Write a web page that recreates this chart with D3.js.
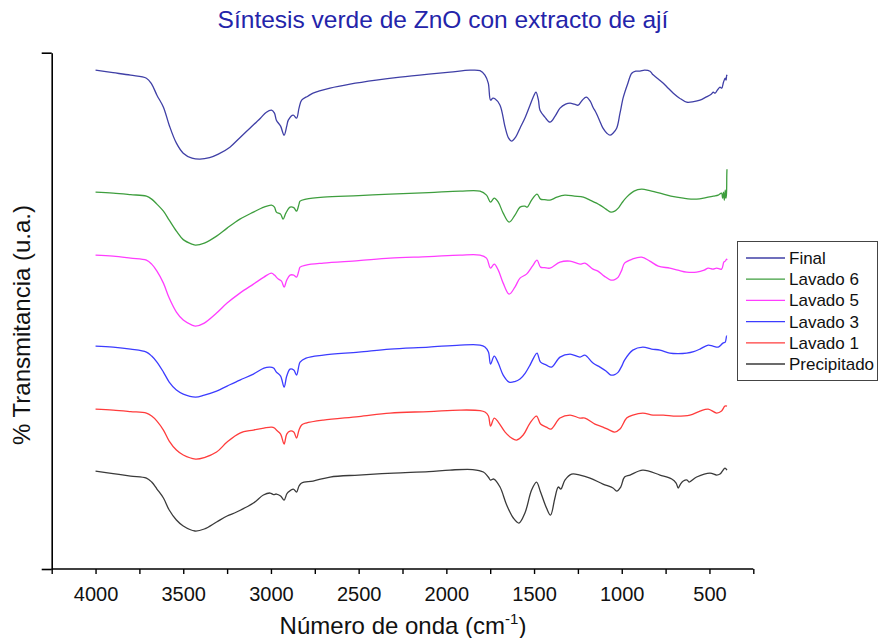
<!DOCTYPE html>
<html>
<head>
<meta charset="utf-8">
<script src="https://cdn.jsdelivr.net/npm/d3@7"></script>
<style>
  html, body { margin: 0; padding: 0; background: #fff; }
  svg { display: block; font-family: "Liberation Sans", Arial, sans-serif; }
</style>
</head>
<body>
<svg id="chart" width="881" height="638"></svg>
<script>
// FTIR spectra: [wavenumber (cm^-1), transmittance (a.u., stacked)]
const finalData = [
  [4000,99.8],[3900,99.3],[3800,98.8],[3710,98.2],[3680,97.0],[3650,94.8],[3613,92.4],[3580,88.8],
  [3539,85.2],[3500,83.2],[3450,82.2],[3405,82.0],[3350,82.3],[3300,83.0],[3234,84.4],[3180,86.2],
  [3120,88.2],[3060,90.2],[3026,91.4],[2997,91.8],[2980,91.2],[2969,89.8],[2945,88.6],[2925,86.8],
  [2910,88.6],[2901,89.8],[2873,90.8],[2854,90.2],[2840,92.2],[2825,93.8],[2790,94.6],[2760,95.2],
  [2663,96.2],[2549,97.0],[2400,97.8],[2264,98.4],[2100,99.0],[1979,99.4],[1865,99.8],[1808,99.7],
  [1780,98.8],[1761,97.2],[1748,93.8],[1735,94.2],[1723,94.1],[1694,92.8],[1665,88.4],[1645,86.2],
  [1628,85.6],[1605,86.4],[1580,88.2],[1550,90.4],[1523,92.8],[1500,94.8],[1489,95.4],[1475,93.8],
  [1466,91.8],[1438,90.4],[1409,89.4],[1380,90.6],[1352,92.2],[1320,93.0],[1295,93.2],[1270,93.0],
  [1248,92.8],[1225,93.8],[1202,94.4],[1180,93.6],[1164,92.4],[1145,91.2],[1125,89.6],[1107,88.2],
  [1085,87.2],[1067,86.8],[1050,87.2],[1029,88.2],[1010,91.2],[991,94.4],[965,97.2],[943,99.2],
  [920,99.6],[896,99.6],[870,99.8],[839,99.6],[825,99.0],[811,98.6],[790,98.0],[763,97.2],
  [735,96.2],[706,95.2],[670,94.2],[630,93.4],[590,93.5],[554,93.8],[520,94.4],[490,95.0],
  [478,95.4],[468,95.2],[455,95.8],[440,96.4],[430,96.2],[420,97.4],[410,98.2],[405,97.8],
  [402,98.8],[400,98.6]
];
const lavado6Data = [
  [4000,75.4],[3900,75.2],[3800,74.9],[3710,74.6],[3680,74.0],[3650,73.0],[3613,71.6],[3580,69.8],
  [3539,67.6],[3500,65.9],[3450,65.0],[3430,64.8],[3380,65.2],[3310,66.6],[3250,68.2],[3177,70.0],
  [3100,71.4],[3040,72.4],[2997,72.8],[2980,72.4],[2969,71.4],[2945,71.0],[2931,70.0],[2915,71.2],
  [2891,72.4],[2870,72.3],[2854,71.6],[2840,73.0],[2834,73.6],[2800,74.0],[2701,74.4],[2500,74.7],
  [2321,75.0],[2100,75.3],[1922,75.6],[1808,75.6],[1771,74.8],[1748,73.4],[1727,74.2],[1704,73.4],
  [1676,71.2],[1642,69.4],[1609,70.8],[1580,72.4],[1552,72.6],[1539,72.4],[1514,73.8],[1483,75.0],
  [1463,74.0],[1440,73.9],[1409,73.8],[1370,74.4],[1324,74.8],[1270,74.6],[1219,74.4],[1181,73.8],
  [1124,72.8],[1090,72.0],[1062,71.4],[1040,71.6],[1020,72.2],[1000,73.2],[972,74.4],[930,75.6],
  [887,76.0],[840,75.7],[782,75.2],[720,74.6],[649,74.2],[573,74.0],[520,74.3],[478,74.6],
  [450,74.8],[431,75.2],[425,74.2],[420,75.4],[415,73.8],[410,75.8],[406,74.2],[403,75.0],
  [401,79.0],[400,80.0]
];
const lavado5Data = [
  [4000,62.8],[3900,62.6],[3800,62.2],[3710,61.8],[3680,61.0],[3650,59.6],[3613,57.2],[3580,54.2],
  [3539,51.4],[3500,49.8],[3450,48.8],[3430,48.6],[3380,49.2],[3310,51.2],[3250,53.2],[3177,55.2],
  [3100,57.0],[3040,58.4],[2997,59.2],[2980,58.8],[2958,58.0],[2940,57.6],[2925,56.4],[2910,57.8],
  [2891,58.8],[2870,58.8],[2854,58.4],[2840,59.8],[2834,60.4],[2800,60.8],[2701,61.2],[2500,61.7],
  [2321,62.2],[2100,62.5],[1922,62.8],[1808,62.8],[1771,62.2],[1748,60.2],[1727,61.0],[1704,59.8],
  [1676,57.2],[1642,55.0],[1609,56.4],[1580,58.2],[1543,59.0],[1509,60.6],[1483,61.8],[1463,60.4],
  [1440,60.3],[1409,60.2],[1352,61.4],[1295,61.6],[1238,61.0],[1210,61.2],[1164,60.0],[1136,59.6],
  [1100,58.6],[1062,57.8],[1040,57.9],[1020,58.4],[1000,59.8],[984,61.2],[940,62.0],[887,62.4],
  [840,61.6],[792,60.6],[726,60.2],[680,59.8],[630,59.4],[573,59.4],[530,59.8],[507,60.2],
  [480,60.0],[459,60.2],[431,60.0],[418,61.4],[410,61.6],[402,62.0],[400,61.8]
];
const lavado3Data = [
  [4000,44.6],[3900,44.4],[3800,44.0],[3710,43.4],[3680,42.6],[3650,41.4],[3613,39.4],[3580,37.4],
  [3539,35.8],[3500,35.0],[3430,34.4],[3380,34.8],[3310,35.6],[3250,36.6],[3177,37.8],[3100,39.0],
  [3040,40.2],[3005,40.4],[2985,40.2],[2969,39.4],[2945,38.6],[2925,36.4],[2910,38.6],[2891,40.0],
  [2870,39.8],[2854,38.8],[2840,40.8],[2834,41.4],[2800,42.2],[2701,42.8],[2500,43.4],[2321,44.0],
  [2100,44.4],[1922,44.8],[1808,44.8],[1780,44.4],[1760,43.4],[1748,41.0],[1727,42.6],[1704,41.2],
  [1676,38.8],[1642,37.4],[1610,37.5],[1580,38.0],[1550,39.2],[1523,40.8],[1500,42.4],[1483,43.2],
  [1463,41.4],[1430,40.8],[1400,40.4],[1352,42.4],[1295,43.0],[1238,42.4],[1210,42.8],[1164,41.2],
  [1124,40.4],[1090,39.6],[1062,38.8],[1040,38.9],[1020,39.4],[1000,40.6],[984,41.8],[937,43.8],
  [880,44.4],[830,44.0],[782,43.8],[726,43.2],[680,43.1],[630,43.2],[590,43.5],[554,44.0],
  [507,44.8],[480,44.6],[450,44.4],[423,45.2],[410,45.4],[402,46.6],[400,46.6]
];
const lavado1Data = [
  [4000,32.0],[3900,31.8],[3800,31.5],[3710,31.2],[3680,30.6],[3650,29.6],[3613,27.8],[3580,25.6],
  [3539,23.8],[3500,22.8],[3430,22.0],[3380,22.3],[3310,23.4],[3250,25.4],[3177,27.2],[3100,27.8],
  [3040,28.2],[2997,28.4],[2980,28.2],[2969,27.8],[2945,27.0],[2925,25.0],[2910,27.0],[2891,27.6],
  [2870,27.4],[2854,26.2],[2840,27.8],[2825,28.8],[2800,29.2],[2701,29.8],[2500,30.5],[2321,31.2],
  [2100,31.5],[1922,31.8],[1808,31.7],[1780,31.4],[1760,30.6],[1748,28.6],[1727,30.2],[1704,29.4],
  [1665,27.4],[1628,26.2],[1600,25.8],[1562,26.8],[1523,29.2],[1486,30.6],[1463,29.0],[1430,28.4],
  [1403,28.0],[1352,30.2],[1295,30.8],[1238,30.2],[1210,30.2],[1153,29.0],[1107,28.4],[1070,27.8],
  [1040,27.4],[1010,28.0],[972,30.2],[937,30.8],[880,31.2],[822,30.8],[763,30.8],[687,30.6],
  [611,30.8],[554,31.6],[507,32.0],[459,31.2],[431,31.6],[412,32.6],[400,32.6]
];
const precipitadoData = [
  [4000,19.6],[3900,19.1],[3800,18.6],[3710,18.2],[3680,17.4],[3650,16.0],[3613,14.2],[3580,11.8],
  [3539,9.8],[3500,8.6],[3433,7.6],[3380,8.0],[3310,9.4],[3250,10.6],[3196,11.4],[3100,13.2],
  [3043,14.8],[3005,15.2],[2985,14.9],[2969,15.0],[2945,14.6],[2925,13.8],[2910,15.0],[2901,15.4],
  [2873,16.0],[2854,15.4],[2840,16.6],[2825,17.2],[2760,17.6],[2663,18.4],[2500,18.8],[2300,19.2],
  [2100,19.5],[1979,19.8],[1850,19.9],[1789,19.4],[1761,18.4],[1748,17.8],[1729,18.0],[1694,16.4],
  [1656,12.8],[1618,10.2],[1586,9.2],[1552,11.2],[1514,15.8],[1486,17.4],[1463,15.4],[1429,12.2],
  [1406,10.8],[1381,14.2],[1362,16.4],[1347,16.0],[1324,17.8],[1286,19.0],[1238,18.8],[1181,18.2],
  [1107,17.0],[1050,16.2],[1029,15.6],[1006,16.4],[984,18.4],[953,18.8],[880,19.8],[782,18.8],
  [715,18.0],[690,17.2],[678,16.2],[665,17.0],[649,17.6],[627,17.8],[616,17.4],[573,18.4],
  [497,19.2],[459,18.8],[440,19.0],[412,20.2],[405,20.0],[400,19.8]
];

const seriesNames = ["Final", "Lavado 6", "Lavado 5", "Lavado 3", "Lavado 1", "Precipitado"];
const seriesColors = ["#3f3fa6", "#3e9e3e", "#ff3dff", "#3c3cff", "#ff3c3c", "#3a3a3a"];
const seriesData = [finalData, lavado6Data, lavado5Data, lavado3Data, lavado1Data, precipitadoData];

const xMajorTicks = [4000, 3500, 3000, 2500, 2000, 1500, 1000, 500];
const xMinorTicks = [4250, 3750, 3250, 2750, 2250, 1750, 1250, 750, 250];

const titleText = "Síntesis verde de ZnO con extracto de ají";
const xLabelText = "Número de onda (cm";
const yLabelText = "% Transmitancia (u.a.)";

const svg = d3.select("#chart");
const plot = { left: 51.7, right: 753.3, top: 52.7, bottom: 569 };

const x = d3.scaleLinear().domain([4250, 250]).range([plot.left, plot.right]);
const y = d3.scaleLinear().domain([0, 103.3]).range([plot.bottom, plot.top]);

// spectra
const line = d3.line()
  .x(d => x(d[0]))
  .y(d => y(d[1]))
  .curve(d3.curveCatmullRom.alpha(0.5));

svg.append("g")
  .selectAll("path")
  .data(seriesData)
  .join("path")
  .attr("d", line)
  .attr("fill", "none")
  .attr("stroke", (d, i) => seriesColors[i])
  .attr("stroke-width", 1.3)
  .attr("stroke-linejoin", "round");

// x axis: labelled major ticks plus unlabelled minor ticks
const xAxis = svg.append("g")
  .attr("transform", `translate(0,${plot.bottom})`)
  .call(d3.axisBottom(x).tickValues(xMajorTicks).tickFormat(d3.format("d")).tickSize(5).tickSizeOuter(0));
xAxis.select(".domain").remove();
xAxis.selectAll(".tick line").attr("stroke", "#000").attr("stroke-width", 1.4);
xAxis.selectAll(".tick text")
  .attr("y", 18)
  .attr("font-size", 20)
  .attr("font-family", "'Liberation Sans', Arial, sans-serif")
  .attr("fill", "#111");

const xMinor = svg.append("g")
  .attr("transform", `translate(0,${plot.bottom})`)
  .call(d3.axisBottom(x).tickValues(xMinorTicks).tickFormat("").tickSize(5).tickSizeOuter(0));
xMinor.select(".domain").remove();
xMinor.selectAll(".tick line").attr("stroke", "#000").attr("stroke-width", 1.4);

svg.append("line")
  .attr("x1", plot.left).attr("x2", plot.right)
  .attr("y1", plot.bottom).attr("y2", plot.bottom)
  .attr("stroke", "#000").attr("stroke-width", 1.6);

// y axis: no tick labels, only end ticks
const yAxis = svg.append("g")
  .attr("transform", `translate(${plot.left},0)`)
  .call(d3.axisLeft(y).tickValues(y.domain()).tickFormat("").tickSize(10).tickSizeOuter(0));
yAxis.select(".domain").attr("stroke", "#000").attr("stroke-width", 1.6);
yAxis.selectAll(".tick line").attr("stroke", "#000").attr("stroke-width", 1.6);

// title
svg.append("text")
  .attr("x", 443).attr("y", 28)
  .attr("text-anchor", "middle")
  .attr("font-size", 24.5)
  .attr("fill", "#2424aa")
  .text(titleText);

// x axis label with superscript
const xl = svg.append("text")
  .attr("x", 403).attr("y", 634)
  .attr("text-anchor", "middle")
  .attr("font-size", 24)
  .attr("fill", "#111");
xl.append("tspan").text(xLabelText);
xl.append("tspan").attr("dy", -10).attr("font-size", 15).text("-1");
xl.append("tspan").attr("dy", 10).text(")");

// y axis label
svg.append("text")
  .attr("transform", `translate(30,325) rotate(-90)`)
  .attr("text-anchor", "middle")
  .attr("font-size", 24)
  .attr("fill", "#111")
  .text(yLabelText);

// legend
const legend = svg.append("g");
legend.append("rect")
  .attr("x", 737.5).attr("y", 241.5)
  .attr("width", 140).attr("height", 139)
  .attr("fill", "#fff")
  .attr("stroke", "#444").attr("stroke-width", 1);
const rows = legend.selectAll("g.row")
  .data(seriesNames)
  .join("g")
  .attr("class", "row")
  .attr("transform", (d, i) => `translate(0,${258 + i * 21.2})`);
rows.append("line")
  .attr("x1", 746).attr("x2", 785)
  .attr("stroke", (d, i) => seriesColors[i])
  .attr("stroke-width", 1.3);
rows.append("text")
  .attr("x", 789).attr("y", 6)
  .attr("font-size", 17)
  .attr("fill", "#111")
  .text(d => d);
</script>
</body>
</html>
